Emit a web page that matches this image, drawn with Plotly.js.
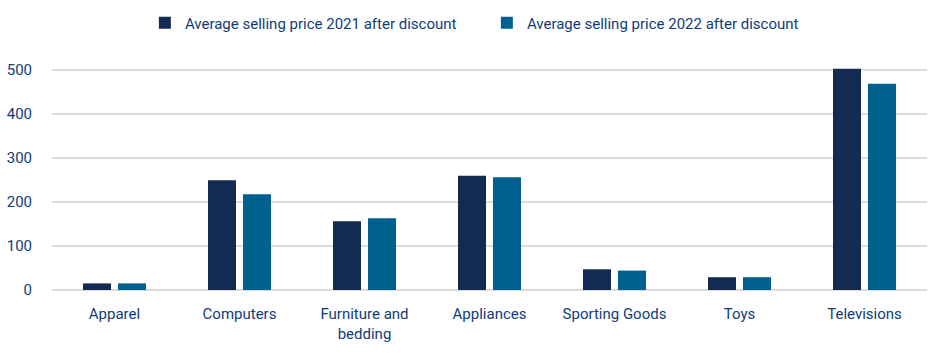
<!DOCTYPE html>
<html>
<head>
<meta charset="utf-8">
<script src="https://cdn.plot.ly/plotly-3.0.1.min.js"></script>
<style>html,body{margin:0;padding:0;background:#fff;}#chart{width:933px;height:356px;}</style>
</head>
<body>
<div id="chart"></div>
<script>
const categories = ["Apparel", "Computers", "Furniture and<br>bedding", "Appliances", "Sporting Goods", "Toys", "Televisions"];
const price2021 = [15, 249, 156, 259, 47, 29, 502];
const price2022 = [15, 217, 163, 256, 44, 29, 468];
const seriesNames = ["Average selling price 2021 after discount", "Average selling price 2022 after discount"];
const yTicks = [0, 100, 200, 300, 400, 500];

const textColor = "#0f3c7a";
const fontFam = "Roboto, 'Liberation Sans', sans-serif";

const data = [
  {type: "bar", name: seriesNames[0], x: categories, y: price2021, marker: {color: "#132a52"}},
  {type: "bar", name: seriesNames[1], x: categories, y: price2022, marker: {color: "#006090"}}
];

const layout = {
  width: 933, height: 356,
  margin: {l: 52, r: 6, t: 40, b: 66},
  paper_bgcolor: "#ffffff", plot_bgcolor: "#ffffff",
  font: {family: fontFam, size: 15, color: textColor},
  barmode: "group",
  bargap: 0.44,
  bargroupgap: 0.2,
  showlegend: true,
  legend: {orientation: "h", x: 0.497, xanchor: "center", y: 0.982, yanchor: "top", yref: "container",
           font: {size: 15, color: textColor}, traceorder: "normal", entrywidth: 297, itemwidth: 30},
  xaxis: {showgrid: false, showline: false, ticks: "", ticklabelstandoff: 13, tickfont: {size: 15, color: textColor}, automargin: false},
  yaxis: {range: [0, 567], tickvals: yTicks, showgrid: true, gridcolor: "#dcdcdc", gridwidth: 2, zeroline: true, zerolinecolor: "#dcdcdc", zerolinewidth: 2, ticks: "", ticklabelstandoff: 19, tickfont: {size: 15, color: textColor}, automargin: false}
};

Plotly.newPlot("chart", data, layout, {displayModeBar: false, staticPlot: true});
</script>
</body>
</html>
